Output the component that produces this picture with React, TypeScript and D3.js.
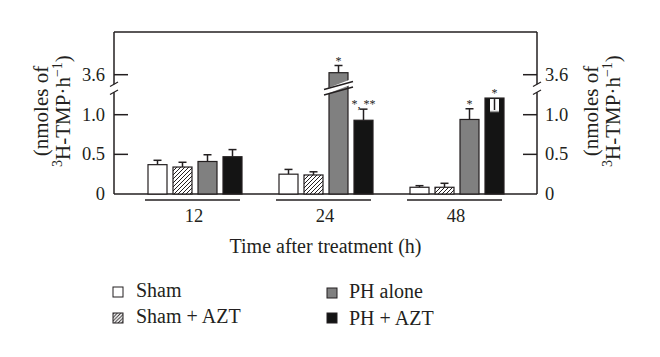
import React from "react";
import * as d3 from "d3";

const groups = ["12", "24", "48"];
const seriesNames = ["Sham", "Sham + AZT", "PH alone", "PH + AZT"];
const sham = [0.37, 0.25, 0.085];
const shamErr = [0.055, 0.06, 0.02];
const shamAZT = [0.34, 0.24, 0.085];
const shamAZTErr = [0.06, 0.04, 0.05];
const phAlone = [0.41, 3.65, 0.94];
const phAloneErr = [0.085, 0.18, 0.135];
const phAZT = [0.47, 0.93, 1.21];
const phAZTErr = [0.09, 0.14, 0.17];
const phAloneMarks = ["", "*", "*"];
const phAZTMarks = ["", "*, **", "*"];
const lowerTicks = [0, 0.5, 1.0];
const upperTicks = [3.6];

const FONT = "'Liberation Serif', 'Times New Roman', serif";
const INK = "#231f20";

export default function App() {
  const W = 660, H = 357;
  const left = 114, right = 537, top = 32, bottom = 194;
  const breakY = 89; // values above this pixel use the upper scale

  const x = d3.scaleBand<string>().domain(groups).range([148, 504]).paddingInner(37 / 131).paddingOuter(0);
  const xs = d3.scaleBand<string>().domain(seriesNames).range([0, x.bandwidth()]).paddingInner(6 / 25);
  const yLow = d3.scaleLinear().domain([0, 1]).range([bottom, 114.7]);
  const yHigh = d3.scaleLinear().domain([3.2, 4.0]).range([90.7, 58.7]);
  const y = (v: number) => (v > 1.5 ? yHigh(v) : yLow(v));

  const series = [
    { name: seriesNames[0], vals: sham, errs: shamErr, fill: "#ffffff", marks: ["", "", ""] },
    { name: seriesNames[1], vals: shamAZT, errs: shamAZTErr, fill: "url(#hatch)", marks: ["", "", ""] },
    { name: seriesNames[2], vals: phAlone, errs: phAloneErr, fill: "#808080", marks: phAloneMarks },
    { name: seriesNames[3], vals: phAZT, errs: phAZTErr, fill: "#141414", marks: phAZTMarks },
  ];

  const bars: React.ReactNode[] = [];
  series.forEach((s, si) => {
    groups.forEach((g, gi) => {
      const bx = (x(g) as number) + (xs(s.name) as number);
      const bw = xs.bandwidth();
      const v = s.vals[gi];
      const e = s.errs[gi];
      const yt = y(v);
      const cx = bx + bw / 2;
      const key = `${si}-${gi}`;
      const inverted = si === 3 && gi === 2; // white error bar drawn inside black bar
      const yErr = inverted ? y(v - e) : y(v + e);
      bars.push(
        <g key={key}>
          {!inverted && (
            <g stroke={INK} strokeWidth={1.5}>
              <line x1={cx} x2={cx} y1={yt} y2={yErr} />
              <line x1={cx - 4} x2={cx + 4} y1={yErr} y2={yErr} />
            </g>
          )}
          <rect x={bx} y={yt} width={bw} height={bottom - yt} fill={s.fill} stroke={INK} strokeWidth={1.2} />
          {inverted && (
            <g>
              <rect x={cx - 4.5} y={yt + 1} width={9} height={yErr - yt - 1} fill="#ffffff" />
              <line x1={cx} x2={cx} y1={yt + 1} y2={yErr - 1.5} stroke={INK} strokeWidth={1.5} />
              <line x1={cx - 4.5} x2={cx + 4.5} y1={yErr} y2={yErr} stroke="#9a9a9a" strokeWidth={1.5} />
            </g>
          )}
          {v > 1.5 && (
            <g>
              <polygon
                points={`${bx - 1},${breakY + 4.5} ${bx + bw + 1},${breakY - 3.5} ${bx + bw + 1},${breakY - 9} ${bx - 1},${breakY - 1}`}
                fill="#ffffff"
              />
              <line x1={bx - 5} y1={breakY + 6} x2={bx + bw + 5} y2={breakY - 2} stroke={INK} strokeWidth={1.3} />
              <line x1={bx - 5} y1={breakY + 0.5} x2={bx + bw + 5} y2={breakY - 7.5} stroke={INK} strokeWidth={1.3} />
            </g>
          )}
          {s.marks[gi] && (
            <text x={cx} y={(inverted ? yt : yErr) - 1} textAnchor="middle" fontSize={12} fill={INK} fontFamily={FONT}>
              {s.marks[gi]}
            </text>
          )}
        </g>
      );
    });
  });

  const breakMark = (ax: number, key: string) => (
    <g key={key} stroke={INK} strokeWidth={1.2}>
      <line x1={ax - 4} y1={86.5} x2={ax + 4} y2={82} />
      <line x1={ax - 4} y1={94.5} x2={ax + 4} y2={90} />
    </g>
  );

  const tickLabel = (v: number) => (v === 0 ? "0" : v.toFixed(1));

  const axisTitle = (tx: number, key: string) => (
    <g key={key} fontFamily={FONT} fontSize={21} fill={INK}>
      <text transform={`translate(${tx},111) rotate(-90)`} textAnchor="middle">(nmoles of</text>
      <text transform={`translate(${tx + 22},111) rotate(-90)`} textAnchor="middle">
        <tspan fontSize={14} dy={-8}>3</tspan>
        <tspan dy={8}>H-TMP·h</tspan>
        <tspan fontSize={14} dy={-8}>−1</tspan>
        <tspan dy={8}>)</tspan>
      </text>
    </g>
  );

  const legendItems = [
    { name: seriesNames[0], fill: "#ffffff", sx: 113, sy: 287, tx: 136, ty: 297 },
    { name: seriesNames[1], fill: "url(#hatchSmall)", sx: 113, sy: 313, tx: 136, ty: 323 },
    { name: seriesNames[2], fill: "#808080", sx: 327, sy: 288, tx: 349, ty: 298 },
    { name: seriesNames[3], fill: "#141414", sx: 327, sy: 313, tx: 349, ty: 325 },
  ];

  return (
    <svg width={W} height={H} style={{ position: "absolute", left: 0, top: 0, background: "#fff" }}>
      <defs>
        <pattern id="hatch" patternUnits="userSpaceOnUse" width={4} height={4}>
          <rect width={4} height={4} fill="#fff" />
          <path d="M-1,1 l2,-2 M0,4 l4,-4 M3,5 l2,-2" stroke={INK} strokeWidth={1} />
        </pattern>
        <pattern id="hatchSmall" patternUnits="userSpaceOnUse" width={3.5} height={3.5}>
          <rect width={3.5} height={3.5} fill="#fff" />
          <path d="M-1,1 l2,-2 M0,3.5 l3.5,-3.5 M2.5,4.5 l2,-2" stroke={INK} strokeWidth={0.9} />
        </pattern>
      </defs>
      <rect width={W} height={H} fill="#fff" />

      {/* frame */}
      <g stroke={INK} strokeWidth={1.5} fill="none">
        <line x1={left} x2={right} y1={top} y2={top} />
        <line x1={left} x2={right} y1={bottom} y2={bottom} />
        <line x1={left} x2={left} y1={top} y2={84.3} />
        <line x1={left} x2={left} y1={92.3} y2={bottom} />
        <line x1={right} x2={right} y1={top} y2={84.3} />
        <line x1={right} x2={right} y1={92.3} y2={bottom} />
      </g>
      {breakMark(left, "bl")}
      {breakMark(right, "br")}

      {/* ticks */}
      <g stroke={INK} strokeWidth={1.5}>
        {lowerTicks.filter((t) => t > 0).map((t) => (
          <g key={`lt${t}`}>
            <line x1={left} x2={left + 14} y1={yLow(t)} y2={yLow(t)} />
            <line x1={right - 14} x2={right} y1={yLow(t)} y2={yLow(t)} />
          </g>
        ))}
        {upperTicks.map((t) => (
          <g key={`ut${t}`}>
            <line x1={left} x2={left + 14} y1={yHigh(t)} y2={yHigh(t)} />
            <line x1={right - 14} x2={right} y1={yHigh(t)} y2={yHigh(t)} />
          </g>
        ))}
      </g>
      <g fontFamily={FONT} fontSize={18.5} fill={INK} dominantBaseline="central">
        {lowerTicks.map((t) => (
          <g key={`ll${t}`}>
            <text x={105} y={yLow(t)} textAnchor="end">{tickLabel(t)}</text>
            <text x={545} y={yLow(t)} textAnchor="start">{tickLabel(t)}</text>
          </g>
        ))}
        {upperTicks.map((t) => (
          <g key={`ul${t}`}>
            <text x={105} y={yHigh(t)} textAnchor="end">{tickLabel(t)}</text>
            <text x={545} y={yHigh(t)} textAnchor="start">{tickLabel(t)}</text>
          </g>
        ))}
      </g>

      {bars}

      {/* group underlines and labels */}
      {groups.map((g) => {
        const x0 = x(g) as number;
        const x1 = x0 + x.bandwidth();
        return (
          <g key={`grp${g}`}>
            <line x1={x0 - 3} x2={x1 - 2} y1={200} y2={200} stroke={INK} strokeWidth={1.5} />
            <text x={(x0 + x1) / 2 - 1} y={222} textAnchor="middle" fontFamily={FONT} fontSize={18.5} fill={INK}>
              {g}
            </text>
          </g>
        );
      })}

      <text x={(left + right) / 2} y={253} textAnchor="middle" fontFamily={FONT} fontSize={20} fill={INK}>
        Time after treatment (h)
      </text>

      {axisTitle(48, "tl")}
      {axisTitle(598, "tr")}

      {/* legend */}
      {legendItems.map((l) => (
        <g key={`leg${l.name}`}>
          <rect x={l.sx} y={l.sy} width={10} height={10} fill={l.fill} stroke={INK} strokeWidth={1} />
          <text x={l.tx} y={l.ty} fontFamily={FONT} fontSize={20} fill={INK}>{l.name}</text>
        </g>
      ))}
    </svg>
  );
}
